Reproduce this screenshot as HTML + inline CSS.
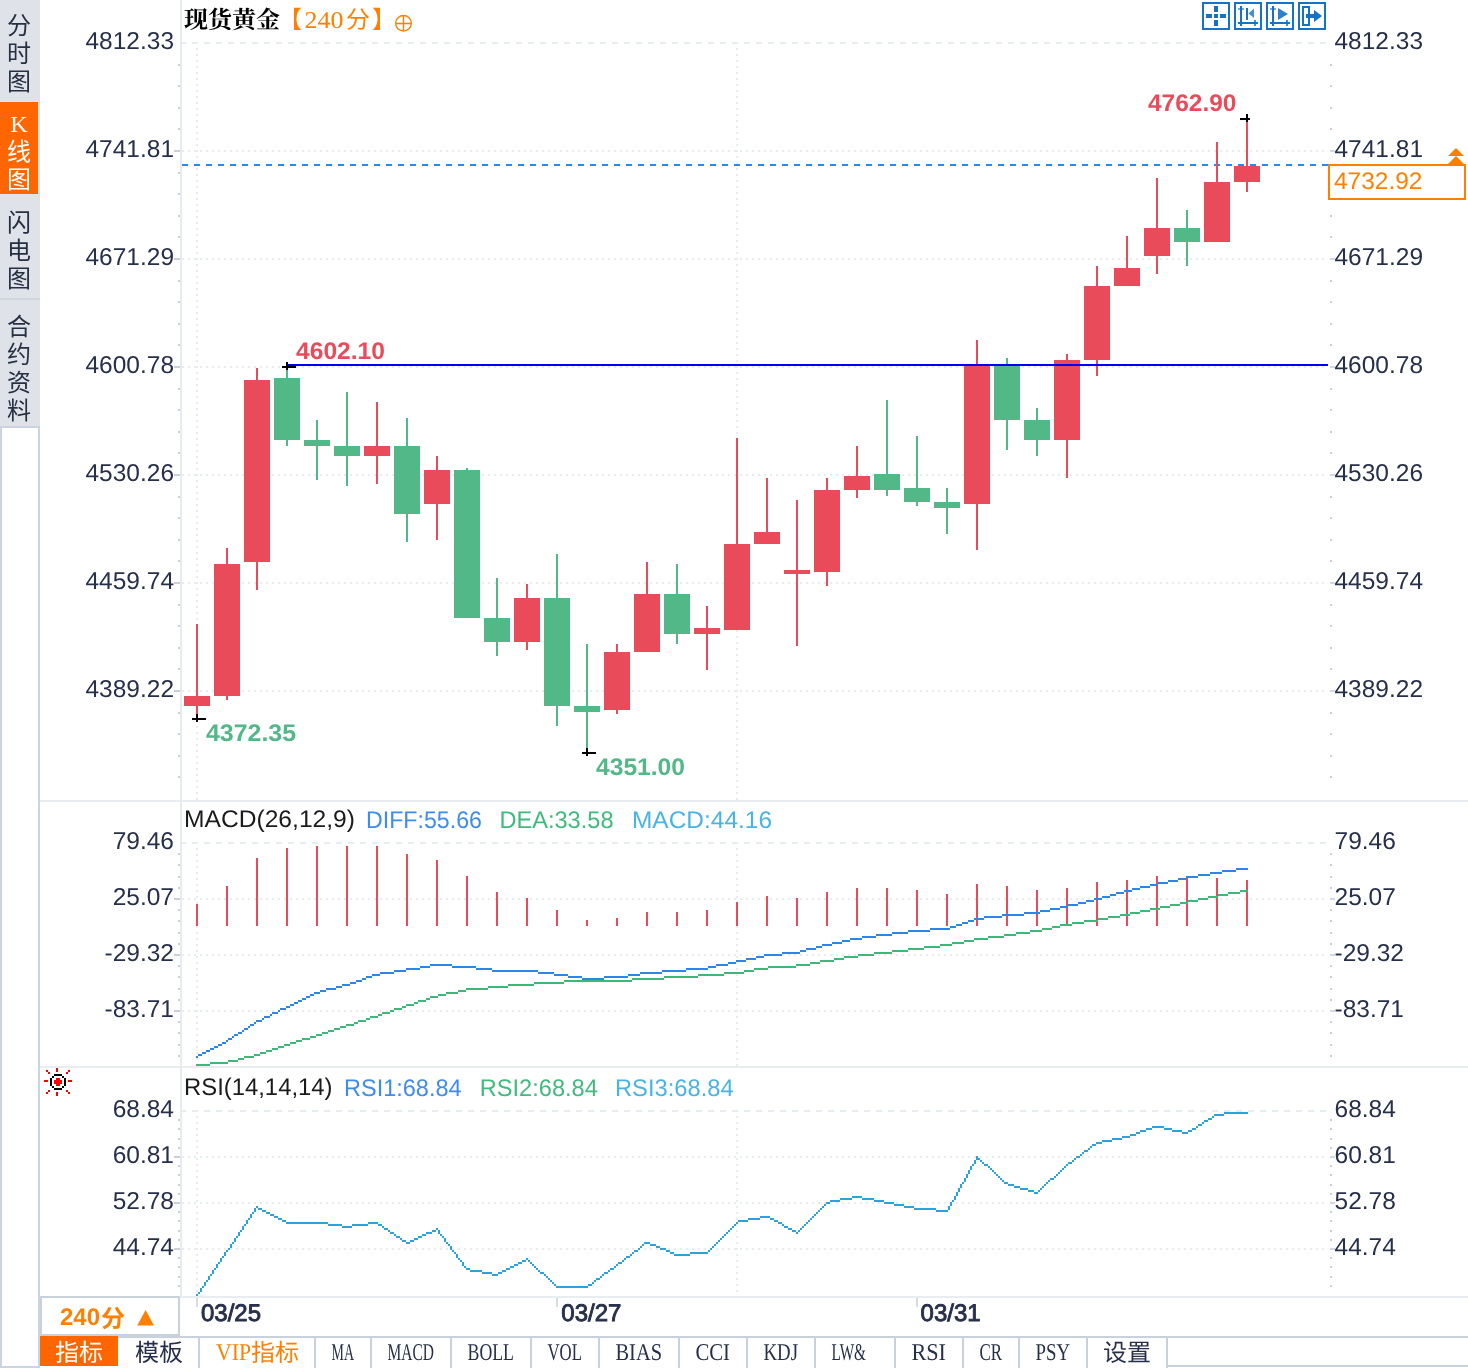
<!DOCTYPE html>
<html lang="zh-CN"><head><meta charset="utf-8"><title>现货黄金 240分</title>
<style>
html,body{margin:0;padding:0;background:#fff}
body{width:1468px;height:1368px;position:relative;overflow:hidden;font-family:"Liberation Sans","Noto Sans CJK SC",sans-serif}
#side{position:absolute;left:0;top:0;width:40px;height:426px;background:#e0e2ea}
#side div{position:absolute;left:0;width:38px;text-align:center;font-family:"Liberation Serif","Noto Sans CJK SC",sans-serif;font-size:24px;line-height:28px;color:#273042}
#side .sep{height:2px;width:40px;background:#cfd6df}
#side .act{background:#ff6600;color:#fff;width:38px;box-shadow:1px 0 0 #dbe5ef,0 -1px 0 #dbe5ef}
text{text-rendering:geometricPrecision}
</style></head><body>
<div id="side">
<div style="top:0;height:102px"><span style="display:block;margin-top:12px">分</span><span style="display:block">时</span><span style="display:block">图</span></div>
<div class="act" style="top:102px;height:92px"><span style="display:block;margin-top:8px">K</span><span style="display:block">线</span><span style="display:block">图</span></div>
<div style="top:194px;height:104px"><span style="display:block;margin-top:15px">闪</span><span style="display:block">电</span><span style="display:block">图</span></div>
<div class="sep" style="top:298px"></div>
<div style="top:300px;height:128px"><span style="display:block;margin-top:13px">合</span><span style="display:block">约</span><span style="display:block">资</span><span style="display:block">料</span></div>
</div>
<svg width="1468" height="1368" viewBox="0 0 1468 1368" style="position:absolute;left:0;top:0" shape-rendering="crispEdges">
<rect x="40" y="800" width="1428" height="2" fill="#e8edf2"/>
<rect x="40" y="1066" width="1428" height="2" fill="#e8edf2"/>
<rect x="40" y="1296" width="1428" height="2" fill="#e8edf2"/>
<rect x="38" y="426" width="2" height="942" fill="#ccd5df"/>
<rect x="0" y="426" width="2" height="942" fill="#ccd5df"/>
<rect x="0" y="426" width="40" height="2" fill="#ccd5df"/>
<rect x="0" y="1366" width="40" height="2" fill="#ccd5df"/>
<rect x="180" y="0" width="2" height="1297" fill="#e6ebf1"/>
<line x1="182" y1="43" x2="1328" y2="43" stroke="#e7ecf1" stroke-width="2" stroke-dasharray="6 6" stroke-dashoffset="2"/>
<line x1="182" y1="151" x2="1328" y2="151" stroke="#e7ecf1" stroke-width="2" stroke-dasharray="2 4"/>
<line x1="182" y1="259" x2="1328" y2="259" stroke="#e7ecf1" stroke-width="2" stroke-dasharray="2 4"/>
<line x1="182" y1="367" x2="1328" y2="367" stroke="#e7ecf1" stroke-width="2" stroke-dasharray="2 4"/>
<line x1="182" y1="475" x2="1328" y2="475" stroke="#e7ecf1" stroke-width="2" stroke-dasharray="2 4"/>
<line x1="182" y1="583" x2="1328" y2="583" stroke="#e7ecf1" stroke-width="2" stroke-dasharray="2 4"/>
<line x1="182" y1="691" x2="1328" y2="691" stroke="#e7ecf1" stroke-width="2" stroke-dasharray="2 4"/>
<line x1="197" y1="48" x2="197" y2="800" stroke="#e7ecf1" stroke-width="2" stroke-dasharray="2 4"/>
<line x1="737" y1="48" x2="737" y2="800" stroke="#e7ecf1" stroke-width="2" stroke-dasharray="2 4"/>
<rect x="178" y="64" width="2" height="2" fill="#c9d0d8"/>
<rect x="1330" y="64" width="2" height="2" fill="#c9d0d8"/>
<rect x="178" y="85" width="2" height="2" fill="#c9d0d8"/>
<rect x="1330" y="85" width="2" height="2" fill="#c9d0d8"/>
<rect x="178" y="107" width="2" height="2" fill="#c9d0d8"/>
<rect x="1330" y="107" width="2" height="2" fill="#c9d0d8"/>
<rect x="178" y="128" width="2" height="2" fill="#c9d0d8"/>
<rect x="1330" y="128" width="2" height="2" fill="#c9d0d8"/>
<rect x="174" y="150" width="6" height="2" fill="#c9d0d8"/>
<rect x="1330" y="150" width="5" height="2" fill="#d3d9e0"/>
<rect x="178" y="172" width="2" height="2" fill="#c9d0d8"/>
<rect x="1330" y="172" width="2" height="2" fill="#c9d0d8"/>
<rect x="178" y="193" width="2" height="2" fill="#c9d0d8"/>
<rect x="1330" y="193" width="2" height="2" fill="#c9d0d8"/>
<rect x="178" y="215" width="2" height="2" fill="#c9d0d8"/>
<rect x="1330" y="215" width="2" height="2" fill="#c9d0d8"/>
<rect x="178" y="236" width="2" height="2" fill="#c9d0d8"/>
<rect x="1330" y="236" width="2" height="2" fill="#c9d0d8"/>
<rect x="174" y="258" width="6" height="2" fill="#c9d0d8"/>
<rect x="1330" y="258" width="5" height="2" fill="#d3d9e0"/>
<rect x="178" y="280" width="2" height="2" fill="#c9d0d8"/>
<rect x="1330" y="280" width="2" height="2" fill="#c9d0d8"/>
<rect x="178" y="301" width="2" height="2" fill="#c9d0d8"/>
<rect x="1330" y="301" width="2" height="2" fill="#c9d0d8"/>
<rect x="178" y="323" width="2" height="2" fill="#c9d0d8"/>
<rect x="1330" y="323" width="2" height="2" fill="#c9d0d8"/>
<rect x="178" y="344" width="2" height="2" fill="#c9d0d8"/>
<rect x="1330" y="344" width="2" height="2" fill="#c9d0d8"/>
<rect x="174" y="366" width="6" height="2" fill="#c9d0d8"/>
<rect x="1330" y="366" width="5" height="2" fill="#d3d9e0"/>
<rect x="178" y="388" width="2" height="2" fill="#c9d0d8"/>
<rect x="1330" y="388" width="2" height="2" fill="#c9d0d8"/>
<rect x="178" y="409" width="2" height="2" fill="#c9d0d8"/>
<rect x="1330" y="409" width="2" height="2" fill="#c9d0d8"/>
<rect x="178" y="431" width="2" height="2" fill="#c9d0d8"/>
<rect x="1330" y="431" width="2" height="2" fill="#c9d0d8"/>
<rect x="178" y="452" width="2" height="2" fill="#c9d0d8"/>
<rect x="1330" y="452" width="2" height="2" fill="#c9d0d8"/>
<rect x="174" y="474" width="6" height="2" fill="#c9d0d8"/>
<rect x="1330" y="474" width="5" height="2" fill="#d3d9e0"/>
<rect x="178" y="496" width="2" height="2" fill="#c9d0d8"/>
<rect x="1330" y="496" width="2" height="2" fill="#c9d0d8"/>
<rect x="178" y="517" width="2" height="2" fill="#c9d0d8"/>
<rect x="1330" y="517" width="2" height="2" fill="#c9d0d8"/>
<rect x="178" y="539" width="2" height="2" fill="#c9d0d8"/>
<rect x="1330" y="539" width="2" height="2" fill="#c9d0d8"/>
<rect x="178" y="560" width="2" height="2" fill="#c9d0d8"/>
<rect x="1330" y="560" width="2" height="2" fill="#c9d0d8"/>
<rect x="174" y="582" width="6" height="2" fill="#c9d0d8"/>
<rect x="1330" y="582" width="5" height="2" fill="#d3d9e0"/>
<rect x="178" y="604" width="2" height="2" fill="#c9d0d8"/>
<rect x="1330" y="604" width="2" height="2" fill="#c9d0d8"/>
<rect x="178" y="625" width="2" height="2" fill="#c9d0d8"/>
<rect x="1330" y="625" width="2" height="2" fill="#c9d0d8"/>
<rect x="178" y="647" width="2" height="2" fill="#c9d0d8"/>
<rect x="1330" y="647" width="2" height="2" fill="#c9d0d8"/>
<rect x="178" y="668" width="2" height="2" fill="#c9d0d8"/>
<rect x="1330" y="668" width="2" height="2" fill="#c9d0d8"/>
<rect x="174" y="690" width="6" height="2" fill="#c9d0d8"/>
<rect x="1330" y="690" width="5" height="2" fill="#d3d9e0"/>
<rect x="178" y="712" width="2" height="2" fill="#c9d0d8"/>
<rect x="1330" y="712" width="2" height="2" fill="#c9d0d8"/>
<rect x="178" y="733" width="2" height="2" fill="#c9d0d8"/>
<rect x="1330" y="733" width="2" height="2" fill="#c9d0d8"/>
<rect x="178" y="755" width="2" height="2" fill="#c9d0d8"/>
<rect x="1330" y="755" width="2" height="2" fill="#c9d0d8"/>
<rect x="178" y="776" width="2" height="2" fill="#c9d0d8"/>
<rect x="1330" y="776" width="2" height="2" fill="#c9d0d8"/>
<line x1="182" y1="843" x2="1328" y2="843" stroke="#e7ecf1" stroke-width="2" stroke-dasharray="6 6" stroke-dashoffset="2"/>
<line x1="182" y1="899" x2="1328" y2="899" stroke="#e7ecf1" stroke-width="2" stroke-dasharray="2 4"/>
<line x1="182" y1="955" x2="1328" y2="955" stroke="#e7ecf1" stroke-width="2" stroke-dasharray="2 4"/>
<line x1="182" y1="1011" x2="1328" y2="1011" stroke="#e7ecf1" stroke-width="2" stroke-dasharray="2 4"/>
<line x1="197" y1="848" x2="197" y2="1066" stroke="#e7ecf1" stroke-width="2" stroke-dasharray="2 4"/>
<line x1="737" y1="848" x2="737" y2="1066" stroke="#e7ecf1" stroke-width="2" stroke-dasharray="2 4"/>
<rect x="178" y="853" width="2" height="2" fill="#c9d0d8"/>
<rect x="1330" y="853" width="2" height="2" fill="#c9d0d8"/>
<rect x="178" y="864" width="2" height="2" fill="#c9d0d8"/>
<rect x="1330" y="864" width="2" height="2" fill="#c9d0d8"/>
<rect x="178" y="876" width="2" height="2" fill="#c9d0d8"/>
<rect x="1330" y="876" width="2" height="2" fill="#c9d0d8"/>
<rect x="178" y="887" width="2" height="2" fill="#c9d0d8"/>
<rect x="1330" y="887" width="2" height="2" fill="#c9d0d8"/>
<rect x="174" y="898" width="6" height="2" fill="#c9d0d8"/>
<rect x="1330" y="898" width="5" height="2" fill="#d3d9e0"/>
<rect x="178" y="909" width="2" height="2" fill="#c9d0d8"/>
<rect x="1330" y="909" width="2" height="2" fill="#c9d0d8"/>
<rect x="178" y="920" width="2" height="2" fill="#c9d0d8"/>
<rect x="1330" y="920" width="2" height="2" fill="#c9d0d8"/>
<rect x="178" y="932" width="2" height="2" fill="#c9d0d8"/>
<rect x="1330" y="932" width="2" height="2" fill="#c9d0d8"/>
<rect x="178" y="943" width="2" height="2" fill="#c9d0d8"/>
<rect x="1330" y="943" width="2" height="2" fill="#c9d0d8"/>
<rect x="174" y="954" width="6" height="2" fill="#c9d0d8"/>
<rect x="1330" y="954" width="5" height="2" fill="#d3d9e0"/>
<rect x="178" y="965" width="2" height="2" fill="#c9d0d8"/>
<rect x="1330" y="965" width="2" height="2" fill="#c9d0d8"/>
<rect x="178" y="976" width="2" height="2" fill="#c9d0d8"/>
<rect x="1330" y="976" width="2" height="2" fill="#c9d0d8"/>
<rect x="178" y="988" width="2" height="2" fill="#c9d0d8"/>
<rect x="1330" y="988" width="2" height="2" fill="#c9d0d8"/>
<rect x="178" y="999" width="2" height="2" fill="#c9d0d8"/>
<rect x="1330" y="999" width="2" height="2" fill="#c9d0d8"/>
<rect x="174" y="1010" width="6" height="2" fill="#c9d0d8"/>
<rect x="1330" y="1010" width="5" height="2" fill="#d3d9e0"/>
<rect x="178" y="1021" width="2" height="2" fill="#c9d0d8"/>
<rect x="1330" y="1021" width="2" height="2" fill="#c9d0d8"/>
<rect x="178" y="1032" width="2" height="2" fill="#c9d0d8"/>
<rect x="1330" y="1032" width="2" height="2" fill="#c9d0d8"/>
<rect x="178" y="1044" width="2" height="2" fill="#c9d0d8"/>
<rect x="1330" y="1044" width="2" height="2" fill="#c9d0d8"/>
<rect x="178" y="1055" width="2" height="2" fill="#c9d0d8"/>
<rect x="1330" y="1055" width="2" height="2" fill="#c9d0d8"/>
<line x1="182" y1="1111" x2="1328" y2="1111" stroke="#e7ecf1" stroke-width="2" stroke-dasharray="6 6" stroke-dashoffset="2"/>
<line x1="182" y1="1157" x2="1328" y2="1157" stroke="#e7ecf1" stroke-width="2" stroke-dasharray="2 4"/>
<line x1="182" y1="1203" x2="1328" y2="1203" stroke="#e7ecf1" stroke-width="2" stroke-dasharray="2 4"/>
<line x1="182" y1="1249" x2="1328" y2="1249" stroke="#e7ecf1" stroke-width="2" stroke-dasharray="2 4"/>
<line x1="197" y1="1116" x2="197" y2="1296" stroke="#e7ecf1" stroke-width="2" stroke-dasharray="2 4"/>
<line x1="737" y1="1116" x2="737" y2="1296" stroke="#e7ecf1" stroke-width="2" stroke-dasharray="2 4"/>
<rect x="178" y="1119" width="2" height="2" fill="#c9d0d8"/>
<rect x="1330" y="1119" width="2" height="2" fill="#c9d0d8"/>
<rect x="178" y="1128" width="2" height="2" fill="#c9d0d8"/>
<rect x="1330" y="1128" width="2" height="2" fill="#c9d0d8"/>
<rect x="178" y="1138" width="2" height="2" fill="#c9d0d8"/>
<rect x="1330" y="1138" width="2" height="2" fill="#c9d0d8"/>
<rect x="178" y="1147" width="2" height="2" fill="#c9d0d8"/>
<rect x="1330" y="1147" width="2" height="2" fill="#c9d0d8"/>
<rect x="174" y="1156" width="6" height="2" fill="#c9d0d8"/>
<rect x="1330" y="1156" width="5" height="2" fill="#d3d9e0"/>
<rect x="178" y="1165" width="2" height="2" fill="#c9d0d8"/>
<rect x="1330" y="1165" width="2" height="2" fill="#c9d0d8"/>
<rect x="178" y="1174" width="2" height="2" fill="#c9d0d8"/>
<rect x="1330" y="1174" width="2" height="2" fill="#c9d0d8"/>
<rect x="178" y="1184" width="2" height="2" fill="#c9d0d8"/>
<rect x="1330" y="1184" width="2" height="2" fill="#c9d0d8"/>
<rect x="178" y="1193" width="2" height="2" fill="#c9d0d8"/>
<rect x="1330" y="1193" width="2" height="2" fill="#c9d0d8"/>
<rect x="174" y="1202" width="6" height="2" fill="#c9d0d8"/>
<rect x="1330" y="1202" width="5" height="2" fill="#d3d9e0"/>
<rect x="178" y="1211" width="2" height="2" fill="#c9d0d8"/>
<rect x="1330" y="1211" width="2" height="2" fill="#c9d0d8"/>
<rect x="178" y="1220" width="2" height="2" fill="#c9d0d8"/>
<rect x="1330" y="1220" width="2" height="2" fill="#c9d0d8"/>
<rect x="178" y="1230" width="2" height="2" fill="#c9d0d8"/>
<rect x="1330" y="1230" width="2" height="2" fill="#c9d0d8"/>
<rect x="178" y="1239" width="2" height="2" fill="#c9d0d8"/>
<rect x="1330" y="1239" width="2" height="2" fill="#c9d0d8"/>
<rect x="174" y="1248" width="6" height="2" fill="#c9d0d8"/>
<rect x="1330" y="1248" width="5" height="2" fill="#d3d9e0"/>
<rect x="178" y="1257" width="2" height="2" fill="#c9d0d8"/>
<rect x="1330" y="1257" width="2" height="2" fill="#c9d0d8"/>
<rect x="178" y="1266" width="2" height="2" fill="#c9d0d8"/>
<rect x="1330" y="1266" width="2" height="2" fill="#c9d0d8"/>
<rect x="178" y="1276" width="2" height="2" fill="#c9d0d8"/>
<rect x="1330" y="1276" width="2" height="2" fill="#c9d0d8"/>
<rect x="178" y="1285" width="2" height="2" fill="#c9d0d8"/>
<rect x="1330" y="1285" width="2" height="2" fill="#c9d0d8"/>
<line x1="182" y1="165" x2="1328" y2="165" stroke="#1e8cff" stroke-width="2" stroke-dasharray="6 6"/>
<rect x="196" y="624" width="2" height="95" fill="#e94b5b"/>
<rect x="184" y="696" width="26" height="10" fill="#e94b5b"/>
<rect x="226" y="548" width="2" height="152" fill="#e94b5b"/>
<rect x="214" y="564" width="26" height="132" fill="#e94b5b"/>
<rect x="256" y="368" width="2" height="222" fill="#e94b5b"/>
<rect x="244" y="380" width="26" height="182" fill="#e94b5b"/>
<rect x="286" y="365" width="2" height="81" fill="#53b888"/>
<rect x="274" y="378" width="26" height="62" fill="#53b888"/>
<rect x="316" y="420" width="2" height="60" fill="#53b888"/>
<rect x="304" y="440" width="26" height="6" fill="#53b888"/>
<rect x="346" y="392" width="2" height="94" fill="#53b888"/>
<rect x="334" y="446" width="26" height="10" fill="#53b888"/>
<rect x="376" y="402" width="2" height="82" fill="#e94b5b"/>
<rect x="364" y="446" width="26" height="10" fill="#e94b5b"/>
<rect x="406" y="418" width="2" height="124" fill="#53b888"/>
<rect x="394" y="446" width="26" height="68" fill="#53b888"/>
<rect x="436" y="456" width="2" height="84" fill="#e94b5b"/>
<rect x="424" y="470" width="26" height="34" fill="#e94b5b"/>
<rect x="466" y="468" width="2" height="150" fill="#53b888"/>
<rect x="454" y="470" width="26" height="148" fill="#53b888"/>
<rect x="496" y="578" width="2" height="78" fill="#53b888"/>
<rect x="484" y="618" width="26" height="24" fill="#53b888"/>
<rect x="526" y="584" width="2" height="66" fill="#e94b5b"/>
<rect x="514" y="598" width="26" height="44" fill="#e94b5b"/>
<rect x="556" y="554" width="2" height="172" fill="#53b888"/>
<rect x="544" y="598" width="26" height="108" fill="#53b888"/>
<rect x="586" y="644" width="2" height="109" fill="#53b888"/>
<rect x="574" y="706" width="26" height="6" fill="#53b888"/>
<rect x="616" y="644" width="2" height="70" fill="#e94b5b"/>
<rect x="604" y="652" width="26" height="58" fill="#e94b5b"/>
<rect x="646" y="562" width="2" height="90" fill="#e94b5b"/>
<rect x="634" y="594" width="26" height="58" fill="#e94b5b"/>
<rect x="676" y="564" width="2" height="80" fill="#53b888"/>
<rect x="664" y="594" width="26" height="40" fill="#53b888"/>
<rect x="706" y="606" width="2" height="64" fill="#e94b5b"/>
<rect x="694" y="628" width="26" height="6" fill="#e94b5b"/>
<rect x="736" y="438" width="2" height="192" fill="#e94b5b"/>
<rect x="724" y="544" width="26" height="86" fill="#e94b5b"/>
<rect x="766" y="478" width="2" height="66" fill="#e94b5b"/>
<rect x="754" y="532" width="26" height="12" fill="#e94b5b"/>
<rect x="796" y="500" width="2" height="146" fill="#e94b5b"/>
<rect x="784" y="570" width="26" height="4" fill="#e94b5b"/>
<rect x="826" y="478" width="2" height="108" fill="#e94b5b"/>
<rect x="814" y="490" width="26" height="82" fill="#e94b5b"/>
<rect x="856" y="446" width="2" height="52" fill="#e94b5b"/>
<rect x="844" y="476" width="26" height="14" fill="#e94b5b"/>
<rect x="886" y="400" width="2" height="96" fill="#53b888"/>
<rect x="874" y="474" width="26" height="16" fill="#53b888"/>
<rect x="916" y="436" width="2" height="70" fill="#53b888"/>
<rect x="904" y="488" width="26" height="14" fill="#53b888"/>
<rect x="946" y="488" width="2" height="46" fill="#53b888"/>
<rect x="934" y="502" width="26" height="6" fill="#53b888"/>
<rect x="976" y="340" width="2" height="210" fill="#e94b5b"/>
<rect x="964" y="365" width="26" height="139" fill="#e94b5b"/>
<rect x="1006" y="358" width="2" height="92" fill="#53b888"/>
<rect x="994" y="365" width="26" height="55" fill="#53b888"/>
<rect x="1036" y="408" width="2" height="48" fill="#53b888"/>
<rect x="1024" y="420" width="26" height="20" fill="#53b888"/>
<rect x="1066" y="354" width="2" height="124" fill="#e94b5b"/>
<rect x="1054" y="360" width="26" height="80" fill="#e94b5b"/>
<rect x="1096" y="266" width="2" height="110" fill="#e94b5b"/>
<rect x="1084" y="286" width="26" height="74" fill="#e94b5b"/>
<rect x="1126" y="236" width="2" height="50" fill="#e94b5b"/>
<rect x="1114" y="268" width="26" height="18" fill="#e94b5b"/>
<rect x="1156" y="178" width="2" height="96" fill="#e94b5b"/>
<rect x="1144" y="228" width="26" height="28" fill="#e94b5b"/>
<rect x="1186" y="210" width="2" height="56" fill="#53b888"/>
<rect x="1174" y="228" width="26" height="14" fill="#53b888"/>
<rect x="1216" y="142" width="2" height="100" fill="#e94b5b"/>
<rect x="1204" y="182" width="26" height="60" fill="#e94b5b"/>
<rect x="1246" y="118" width="2" height="74" fill="#e94b5b"/>
<rect x="1234" y="166" width="26" height="16" fill="#e94b5b"/>
<rect x="287" y="364" width="1041" height="2" fill="#0000ee"/>
<rect x="192" y="718" width="14" height="2" fill="#000"/>
<rect x="196" y="714" width="2" height="8" fill="#000"/>
<rect x="582" y="752" width="14" height="2" fill="#000"/>
<rect x="586" y="748" width="2" height="8" fill="#000"/>
<rect x="282" y="366" width="14" height="2" fill="#000"/>
<rect x="286" y="362" width="2" height="8" fill="#000"/>
<rect x="1240" y="118" width="10" height="2" fill="#000"/>
<rect x="1246" y="114" width="2" height="8" fill="#000"/>
<rect x="196" y="904" width="2" height="22" fill="#e94b5b"/>
<rect x="226" y="886" width="2" height="40" fill="#e94b5b"/>
<rect x="256" y="858" width="2" height="68" fill="#e94b5b"/>
<rect x="286" y="848" width="2" height="78" fill="#e94b5b"/>
<rect x="316" y="846" width="2" height="80" fill="#e94b5b"/>
<rect x="346" y="846" width="2" height="80" fill="#e94b5b"/>
<rect x="376" y="846" width="2" height="80" fill="#e94b5b"/>
<rect x="406" y="854" width="2" height="72" fill="#e94b5b"/>
<rect x="436" y="860" width="2" height="66" fill="#e94b5b"/>
<rect x="466" y="876" width="2" height="50" fill="#e94b5b"/>
<rect x="496" y="892" width="2" height="34" fill="#e94b5b"/>
<rect x="526" y="898" width="2" height="28" fill="#e94b5b"/>
<rect x="556" y="910" width="2" height="16" fill="#e94b5b"/>
<rect x="586" y="920" width="2" height="6" fill="#e94b5b"/>
<rect x="616" y="918" width="2" height="8" fill="#e94b5b"/>
<rect x="646" y="912" width="2" height="14" fill="#e94b5b"/>
<rect x="676" y="912" width="2" height="14" fill="#e94b5b"/>
<rect x="706" y="910" width="2" height="16" fill="#e94b5b"/>
<rect x="736" y="902" width="2" height="24" fill="#e94b5b"/>
<rect x="766" y="896" width="2" height="30" fill="#e94b5b"/>
<rect x="796" y="898" width="2" height="28" fill="#e94b5b"/>
<rect x="826" y="892" width="2" height="34" fill="#e94b5b"/>
<rect x="856" y="888" width="2" height="38" fill="#e94b5b"/>
<rect x="886" y="888" width="2" height="38" fill="#e94b5b"/>
<rect x="916" y="890" width="2" height="36" fill="#e94b5b"/>
<rect x="946" y="894" width="2" height="32" fill="#e94b5b"/>
<rect x="976" y="884" width="2" height="42" fill="#e94b5b"/>
<rect x="1006" y="886" width="2" height="40" fill="#e94b5b"/>
<rect x="1036" y="890" width="2" height="36" fill="#e94b5b"/>
<rect x="1066" y="888" width="2" height="38" fill="#e94b5b"/>
<rect x="1096" y="882" width="2" height="44" fill="#e94b5b"/>
<rect x="1126" y="880" width="2" height="46" fill="#e94b5b"/>
<rect x="1156" y="876" width="2" height="50" fill="#e94b5b"/>
<rect x="1186" y="878" width="2" height="48" fill="#e94b5b"/>
<rect x="1216" y="878" width="2" height="48" fill="#e94b5b"/>
<rect x="1246" y="880" width="2" height="46" fill="#e94b5b"/>
<path d="M196 1064h14v2h-14zM210 1062h18v2h-18zM228 1060h10v2h-10zM238 1058h6v2h-6zM244 1056h10v2h-10zM254 1054h6v2h-6zM260 1052h6v2h-6zM266 1050h6v2h-6zM272 1048h6v2h-6zM278 1046h6v2h-6zM284 1044h6v2h-6zM290 1042h6v2h-6zM296 1040h6v2h-6zM302 1038h8v2h-8zM310 1036h6v2h-6zM316 1034h6v2h-6zM322 1032h6v2h-6zM328 1030h6v2h-6zM334 1028h6v2h-6zM340 1026h6v2h-6zM346 1024h8v2h-8zM354 1022h4v2h-4zM358 1020h8v2h-8zM366 1018h4v2h-4zM370 1016h8v2h-8zM378 1014h4v2h-4zM382 1012h8v2h-8zM390 1010h4v2h-4zM394 1008h8v2h-8zM402 1006h4v2h-4zM406 1004h8v2h-8zM414 1002h4v2h-4zM418 1000h8v2h-8zM426 998h4v2h-4zM430 996h8v2h-8zM438 994h8v2h-8zM446 992h12v2h-12zM458 990h8v2h-8zM466 988h22v2h-22zM488 986h20v2h-20zM508 984h26v2h-26zM534 982h30v2h-30zM564 980h68v2h-68zM632 978h32v2h-32zM664 976h34v2h-34zM698 974h26v2h-26zM724 972h20v2h-20zM744 970h10v2h-10zM754 968h14v2h-14zM768 966h28v2h-28zM796 964h14v2h-14zM810 962h10v2h-10zM820 960h14v2h-14zM834 958h10v2h-10zM844 956h14v2h-14zM858 954h16v2h-16zM874 952h18v2h-18zM892 950h16v2h-16zM908 948h16v2h-16zM924 946h16v2h-16zM940 944h12v2h-12zM952 942h12v2h-12zM964 940h10v2h-10zM974 938h14v2h-14zM988 936h16v2h-16zM1004 934h12v2h-12zM1016 932h14v2h-14zM1030 930h12v2h-12zM1042 928h10v2h-10zM1052 926h8v2h-8zM1060 924h12v2h-12zM1072 922h12v2h-12zM1084 920h14v2h-14zM1098 918h10v2h-10zM1108 916h12v2h-12zM1120 914h10v2h-10zM1130 912h10v2h-10zM1140 910h10v2h-10zM1150 908h10v2h-10zM1160 906h10v2h-10zM1170 904h10v2h-10zM1180 902h8v2h-8zM1188 900h10v2h-10zM1198 898h10v2h-10zM1208 896h10v2h-10zM1218 894h10v2h-10zM1228 892h12v2h-12zM1240 890h8v2h-8z" fill="#3cb878"/>
<path d="M196 1056h2v2h-2zM198 1054h4v2h-4zM202 1052h4v2h-4zM206 1050h4v2h-4zM210 1048h4v2h-4zM214 1046h4v2h-4zM218 1044h4v2h-4zM222 1042h4v2h-4zM226 1040h2v2h-2zM228 1038h4v2h-4zM232 1036h2v2h-2zM234 1034h4v2h-4zM238 1032h4v2h-4zM242 1030h2v2h-2zM244 1028h4v2h-4zM248 1026h2v2h-2zM250 1024h4v2h-4zM254 1022h2v2h-2zM256 1020h6v2h-6zM262 1018h2v2h-2zM264 1016h6v2h-6zM270 1014h2v2h-2zM272 1012h6v2h-6zM278 1010h2v2h-2zM280 1008h6v2h-6zM286 1006h4v2h-4zM290 1004h4v2h-4zM294 1002h4v2h-4zM298 1000h4v2h-4zM302 998h4v2h-4zM306 996h4v2h-4zM310 994h4v2h-4zM314 992h6v2h-6zM320 990h6v2h-6zM326 988h10v2h-10zM336 986h6v2h-6zM342 984h8v2h-8zM350 982h6v2h-6zM356 980h6v2h-6zM362 978h4v2h-4zM366 976h6v2h-6zM372 974h8v2h-8zM380 972h14v2h-14zM394 970h12v2h-12zM406 968h14v2h-14zM420 966h10v2h-10zM430 964h22v2h-22zM452 966h24v2h-24zM476 968h16v2h-16zM492 970h46v2h-46zM538 972h16v2h-16zM554 974h14v2h-14zM568 976h14v2h-14zM582 978h22v2h-22zM604 976h24v2h-24zM628 974h12v2h-12zM640 972h22v2h-22zM662 970h24v2h-24zM686 968h22v2h-22zM708 966h8v2h-8zM716 964h12v2h-12zM728 962h8v2h-8zM736 960h10v2h-10zM746 958h10v2h-10zM756 956h8v2h-8zM764 954h18v2h-18zM782 952h18v2h-18zM800 950h6v2h-6zM806 948h10v2h-10zM816 946h6v2h-6zM822 944h10v2h-10zM832 942h10v2h-10zM842 940h8v2h-8zM850 938h12v2h-12zM862 936h14v2h-14zM876 934h16v2h-16zM892 932h16v2h-16zM908 930h22v2h-22zM930 928h20v2h-20zM950 926h6v2h-6zM956 924h6v2h-6zM962 922h6v2h-6zM968 920h6v2h-6zM974 918h10v2h-10zM984 916h18v2h-18zM1002 914h22v2h-22zM1024 912h16v2h-16zM1040 910h10v2h-10zM1050 908h10v2h-10zM1060 906h8v2h-8zM1068 904h10v2h-10zM1078 902h8v2h-8zM1086 900h8v2h-8zM1094 898h8v2h-8zM1102 896h8v2h-8zM1110 894h6v2h-6zM1116 892h8v2h-8zM1124 890h8v2h-8zM1132 888h8v2h-8zM1140 886h10v2h-10zM1150 884h8v2h-8zM1158 882h10v2h-10zM1168 880h10v2h-10zM1178 878h8v2h-8zM1186 876h12v2h-12zM1198 874h12v2h-12zM1210 872h12v2h-12zM1222 870h14v2h-14zM1236 868h12v2h-12z" fill="#2b86ea"/>
<path d="M196 1294h2v2h-2zM198 1292h2v2h-2zM200 1288h2v4h-2zM202 1286h2v2h-2zM204 1282h2v4h-2zM206 1280h2v2h-2zM208 1276h2v4h-2zM210 1274h2v2h-2zM212 1270h2v4h-2zM214 1268h2v2h-2zM216 1264h2v4h-2zM218 1262h2v2h-2zM220 1258h2v4h-2zM222 1256h2v2h-2zM224 1252h2v4h-2zM226 1250h2v2h-2zM228 1248h2v2h-2zM230 1244h2v4h-2zM232 1242h2v2h-2zM234 1238h2v4h-2zM236 1236h2v2h-2zM238 1232h2v4h-2zM240 1230h2v2h-2zM242 1226h2v4h-2zM244 1224h2v2h-2zM246 1220h2v4h-2zM248 1218h2v2h-2zM250 1214h2v4h-2zM252 1212h2v2h-2zM254 1208h2v4h-2zM256 1206h2v2h-2zM258 1208h4v2h-4zM262 1210h4v2h-4zM266 1212h4v2h-4zM270 1214h4v2h-4zM274 1216h4v2h-4zM278 1218h4v2h-4zM282 1220h4v2h-4zM286 1222h42v2h-42zM328 1224h14v2h-14zM342 1226h10v2h-10zM352 1224h16v2h-16zM368 1222h10v2h-10zM378 1224h4v2h-4zM382 1226h2v2h-2zM384 1228h4v2h-4zM388 1230h2v2h-2zM390 1232h4v2h-4zM394 1234h2v2h-2zM396 1236h4v2h-4zM400 1238h2v2h-2zM402 1240h4v2h-4zM406 1242h4v2h-4zM410 1240h4v2h-4zM414 1238h4v2h-4zM418 1236h4v2h-4zM422 1234h4v2h-4zM426 1232h6v2h-6zM432 1230h4v2h-4zM436 1228h2v2h-2zM438 1230h2v4h-2zM440 1234h2v2h-2zM442 1236h2v2h-2zM444 1238h2v4h-2zM446 1242h2v2h-2zM448 1244h2v2h-2zM450 1246h2v4h-2zM452 1250h2v2h-2zM454 1252h2v2h-2zM456 1254h2v4h-2zM458 1258h2v2h-2zM460 1260h2v2h-2zM462 1262h2v4h-2zM464 1266h2v2h-2zM466 1268h4v2h-4zM470 1270h12v2h-12zM482 1272h10v2h-10zM492 1274h6v2h-6zM498 1272h4v2h-4zM502 1270h4v2h-4zM506 1268h4v2h-4zM510 1266h4v2h-4zM514 1264h4v2h-4zM518 1262h4v2h-4zM522 1260h4v2h-4zM526 1258h2v2h-2zM528 1260h2v2h-2zM530 1262h2v2h-2zM532 1264h2v2h-2zM534 1266h2v2h-2zM536 1268h2v2h-2zM538 1270h2v2h-2zM540 1272h4v2h-4zM544 1274h2v2h-2zM546 1276h2v2h-2zM548 1278h2v2h-2zM550 1280h2v2h-2zM552 1282h2v2h-2zM554 1284h2v2h-2zM556 1286h32v2h-32zM588 1284h4v2h-4zM592 1282h2v2h-2zM594 1280h2v2h-2zM596 1278h4v2h-4zM600 1276h2v2h-2zM602 1274h2v2h-2zM604 1272h4v2h-4zM608 1270h2v2h-2zM610 1268h4v2h-4zM614 1266h2v2h-2zM616 1264h2v2h-2zM618 1262h4v2h-4zM622 1260h2v2h-2zM624 1258h2v2h-2zM626 1256h4v2h-4zM630 1254h2v2h-2zM632 1252h2v2h-2zM634 1250h4v2h-4zM638 1248h2v2h-2zM640 1246h2v2h-2zM642 1244h2v2h-2zM644 1242h6v2h-6zM650 1244h6v2h-6zM656 1246h4v2h-4zM660 1248h6v2h-6zM666 1250h4v2h-4zM670 1252h4v2h-4zM674 1254h16v2h-16zM690 1252h18v2h-18zM708 1250h2v2h-2zM710 1248h2v2h-2zM712 1246h2v2h-2zM714 1244h2v2h-2zM716 1242h2v2h-2zM718 1240h2v2h-2zM720 1238h2v2h-2zM722 1236h2v2h-2zM724 1234h2v2h-2zM726 1232h2v2h-2zM728 1230h2v2h-2zM730 1228h2v2h-2zM732 1226h2v2h-2zM734 1224h2v2h-2zM736 1222h2v2h-2zM738 1220h10v2h-10zM748 1218h12v2h-12zM760 1216h10v2h-10zM770 1218h4v2h-4zM774 1220h4v2h-4zM778 1222h4v2h-4zM782 1224h2v2h-2zM784 1226h4v2h-4zM788 1228h4v2h-4zM792 1230h4v2h-4zM796 1232h2v2h-2zM798 1230h2v2h-2zM800 1228h2v2h-2zM802 1226h2v2h-2zM804 1224h2v2h-2zM806 1222h2v2h-2zM808 1220h2v2h-2zM810 1218h2v2h-2zM812 1216h2v2h-2zM814 1214h2v2h-2zM816 1212h2v2h-2zM818 1210h2v2h-2zM820 1208h2v2h-2zM822 1206h2v2h-2zM824 1204h2v2h-2zM826 1202h4v2h-4zM830 1200h10v2h-10zM840 1198h12v2h-12zM852 1196h10v2h-10zM862 1198h12v2h-12zM874 1200h10v2h-10zM884 1202h10v2h-10zM894 1204h10v2h-10zM904 1206h10v2h-10zM914 1208h22v2h-22zM936 1210h12v2h-12zM948 1206h2v4h-2zM950 1202h2v4h-2zM952 1200h2v2h-2zM954 1196h2v4h-2zM956 1192h2v4h-2zM958 1188h2v4h-2zM960 1184h2v4h-2zM962 1182h2v2h-2zM964 1178h2v4h-2zM966 1174h2v4h-2zM968 1170h2v4h-2zM970 1166h2v4h-2zM972 1164h2v2h-2zM974 1160h2v4h-2zM976 1156h2v4h-2zM978 1158h2v2h-2zM980 1160h2v2h-2zM982 1162h2v2h-2zM984 1164h4v2h-4zM988 1166h2v2h-2zM990 1168h2v2h-2zM992 1170h2v2h-2zM994 1172h2v2h-2zM996 1174h2v2h-2zM998 1176h2v2h-2zM1000 1178h2v2h-2zM1002 1180h2v2h-2zM1004 1182h4v2h-4zM1008 1184h6v2h-6zM1014 1186h6v2h-6zM1020 1188h8v2h-8zM1028 1190h6v2h-6zM1034 1192h4v2h-4zM1038 1190h2v2h-2zM1040 1188h2v2h-2zM1042 1186h2v2h-2zM1044 1184h2v2h-2zM1046 1182h2v2h-2zM1048 1180h2v2h-2zM1050 1178h4v2h-4zM1054 1176h2v2h-2zM1056 1174h2v2h-2zM1058 1172h2v2h-2zM1060 1170h2v2h-2zM1062 1168h2v2h-2zM1064 1166h2v2h-2zM1066 1164h2v2h-2zM1068 1162h4v2h-4zM1072 1160h2v2h-2zM1074 1158h2v2h-2zM1076 1156h4v2h-4zM1080 1154h2v2h-2zM1082 1152h2v2h-2zM1084 1150h4v2h-4zM1088 1148h2v2h-2zM1090 1146h2v2h-2zM1092 1144h4v2h-4zM1096 1142h6v2h-6zM1102 1140h10v2h-10zM1112 1138h10v2h-10zM1122 1136h8v2h-8zM1130 1134h6v2h-6zM1136 1132h4v2h-4zM1140 1130h6v2h-6zM1146 1128h6v2h-6zM1152 1126h12v2h-12zM1164 1128h8v2h-8zM1172 1130h10v2h-10zM1182 1132h6v2h-6zM1188 1130h4v2h-4zM1192 1128h4v2h-4zM1196 1126h2v2h-2zM1198 1124h4v2h-4zM1202 1122h2v2h-2zM1204 1120h4v2h-4zM1208 1118h4v2h-4zM1212 1116h2v2h-2zM1214 1114h10v2h-10zM1224 1112h24v2h-24z" fill="#2aa2dc"/>
<rect x="196" y="1298" width="2" height="9" fill="#d5dce4"/>
<rect x="556" y="1298" width="2" height="9" fill="#d5dce4"/>
<rect x="916" y="1298" width="2" height="9" fill="#d5dce4"/>
<text x="174" y="49.3" font-family="'Liberation Sans','Noto Sans CJK SC',sans-serif" font-size="24.5" fill="#27304a" text-anchor="end" textLength="88.5" lengthAdjust="spacingAndGlyphs">4812.33</text>
<text x="1334.5" y="49.3" font-family="'Liberation Sans','Noto Sans CJK SC',sans-serif" font-size="24.5" fill="#27304a" textLength="88.5" lengthAdjust="spacingAndGlyphs">4812.33</text>
<text x="174" y="157.3" font-family="'Liberation Sans','Noto Sans CJK SC',sans-serif" font-size="24.5" fill="#27304a" text-anchor="end" textLength="88.5" lengthAdjust="spacingAndGlyphs">4741.81</text>
<text x="1334.5" y="157.3" font-family="'Liberation Sans','Noto Sans CJK SC',sans-serif" font-size="24.5" fill="#27304a" textLength="88.5" lengthAdjust="spacingAndGlyphs">4741.81</text>
<text x="174" y="265.3" font-family="'Liberation Sans','Noto Sans CJK SC',sans-serif" font-size="24.5" fill="#27304a" text-anchor="end" textLength="88.5" lengthAdjust="spacingAndGlyphs">4671.29</text>
<text x="1334.5" y="265.3" font-family="'Liberation Sans','Noto Sans CJK SC',sans-serif" font-size="24.5" fill="#27304a" textLength="88.5" lengthAdjust="spacingAndGlyphs">4671.29</text>
<text x="174" y="373.3" font-family="'Liberation Sans','Noto Sans CJK SC',sans-serif" font-size="24.5" fill="#27304a" text-anchor="end" textLength="88.5" lengthAdjust="spacingAndGlyphs">4600.78</text>
<text x="1334.5" y="373.3" font-family="'Liberation Sans','Noto Sans CJK SC',sans-serif" font-size="24.5" fill="#27304a" textLength="88.5" lengthAdjust="spacingAndGlyphs">4600.78</text>
<text x="174" y="481.3" font-family="'Liberation Sans','Noto Sans CJK SC',sans-serif" font-size="24.5" fill="#27304a" text-anchor="end" textLength="88.5" lengthAdjust="spacingAndGlyphs">4530.26</text>
<text x="1334.5" y="481.3" font-family="'Liberation Sans','Noto Sans CJK SC',sans-serif" font-size="24.5" fill="#27304a" textLength="88.5" lengthAdjust="spacingAndGlyphs">4530.26</text>
<text x="174" y="589.3" font-family="'Liberation Sans','Noto Sans CJK SC',sans-serif" font-size="24.5" fill="#27304a" text-anchor="end" textLength="88.5" lengthAdjust="spacingAndGlyphs">4459.74</text>
<text x="1334.5" y="589.3" font-family="'Liberation Sans','Noto Sans CJK SC',sans-serif" font-size="24.5" fill="#27304a" textLength="88.5" lengthAdjust="spacingAndGlyphs">4459.74</text>
<text x="174" y="697.3" font-family="'Liberation Sans','Noto Sans CJK SC',sans-serif" font-size="24.5" fill="#27304a" text-anchor="end" textLength="88.5" lengthAdjust="spacingAndGlyphs">4389.22</text>
<text x="1334.5" y="697.3" font-family="'Liberation Sans','Noto Sans CJK SC',sans-serif" font-size="24.5" fill="#27304a" textLength="88.5" lengthAdjust="spacingAndGlyphs">4389.22</text>
<text x="174" y="849.3" font-family="'Liberation Sans','Noto Sans CJK SC',sans-serif" font-size="24.5" fill="#27304a" text-anchor="end">79.46</text>
<text x="1334.5" y="849.3" font-family="'Liberation Sans','Noto Sans CJK SC',sans-serif" font-size="24.5" fill="#27304a">79.46</text>
<text x="174" y="905.3" font-family="'Liberation Sans','Noto Sans CJK SC',sans-serif" font-size="24.5" fill="#27304a" text-anchor="end">25.07</text>
<text x="1334.5" y="905.3" font-family="'Liberation Sans','Noto Sans CJK SC',sans-serif" font-size="24.5" fill="#27304a">25.07</text>
<text x="174" y="961.3" font-family="'Liberation Sans','Noto Sans CJK SC',sans-serif" font-size="24.5" fill="#27304a" text-anchor="end">-29.32</text>
<text x="1334.5" y="961.3" font-family="'Liberation Sans','Noto Sans CJK SC',sans-serif" font-size="24.5" fill="#27304a">-29.32</text>
<text x="174" y="1017.3" font-family="'Liberation Sans','Noto Sans CJK SC',sans-serif" font-size="24.5" fill="#27304a" text-anchor="end">-83.71</text>
<text x="1334.5" y="1017.3" font-family="'Liberation Sans','Noto Sans CJK SC',sans-serif" font-size="24.5" fill="#27304a">-83.71</text>
<text x="174" y="1117.3" font-family="'Liberation Sans','Noto Sans CJK SC',sans-serif" font-size="24.5" fill="#27304a" text-anchor="end">68.84</text>
<text x="1334.5" y="1117.3" font-family="'Liberation Sans','Noto Sans CJK SC',sans-serif" font-size="24.5" fill="#27304a">68.84</text>
<text x="174" y="1163.3" font-family="'Liberation Sans','Noto Sans CJK SC',sans-serif" font-size="24.5" fill="#27304a" text-anchor="end">60.81</text>
<text x="1334.5" y="1163.3" font-family="'Liberation Sans','Noto Sans CJK SC',sans-serif" font-size="24.5" fill="#27304a">60.81</text>
<text x="174" y="1209.3" font-family="'Liberation Sans','Noto Sans CJK SC',sans-serif" font-size="24.5" fill="#27304a" text-anchor="end">52.78</text>
<text x="1334.5" y="1209.3" font-family="'Liberation Sans','Noto Sans CJK SC',sans-serif" font-size="24.5" fill="#27304a">52.78</text>
<text x="174" y="1255.3" font-family="'Liberation Sans','Noto Sans CJK SC',sans-serif" font-size="24.5" fill="#27304a" text-anchor="end">44.74</text>
<text x="1334.5" y="1255.3" font-family="'Liberation Sans','Noto Sans CJK SC',sans-serif" font-size="24.5" fill="#27304a">44.74</text>
<text x="296" y="359.3" font-family="'Liberation Sans','Noto Sans CJK SC',sans-serif" font-size="24" fill="#e94b5b" font-weight="bold" textLength="89" lengthAdjust="spacingAndGlyphs">4602.10</text>
<text x="206" y="741.3" font-family="'Liberation Sans','Noto Sans CJK SC',sans-serif" font-size="24" fill="#53b888" font-weight="bold" textLength="90" lengthAdjust="spacingAndGlyphs">4372.35</text>
<text x="596" y="774.7" font-family="'Liberation Sans','Noto Sans CJK SC',sans-serif" font-size="24" fill="#53b888" font-weight="bold" textLength="89" lengthAdjust="spacingAndGlyphs">4351.00</text>
<text x="1148" y="110.5" font-family="'Liberation Sans','Noto Sans CJK SC',sans-serif" font-size="24" fill="#e94b5b" font-weight="bold" textLength="88.5" lengthAdjust="spacingAndGlyphs">4762.90</text>
<rect x="1329" y="165" width="136" height="34" fill="#fff" stroke="#ff8000" stroke-width="2"/>
<text x="1334" y="189" font-family="'Liberation Sans','Noto Sans CJK SC',sans-serif" font-size="24" fill="#ff8000" textLength="88.5" lengthAdjust="spacingAndGlyphs">4732.92</text>
<path d="M1456 148 L1464 156 H1448 Z M1456 156 L1464 164 H1448 Z" fill="#ff8000" shape-rendering="auto"/>
<text x="184" y="827.3" font-family="'Liberation Sans','Noto Sans CJK SC',sans-serif" font-size="24" fill="#1b1b1b" textLength="171" lengthAdjust="spacingAndGlyphs">MACD(26,12,9)</text>
<text x="366" y="827.5" font-family="'Liberation Sans','Noto Sans CJK SC',sans-serif" font-size="24" fill="#3f8cf0" textLength="116" lengthAdjust="spacingAndGlyphs">DIFF:55.66</text>
<text x="499.5" y="827.5" font-family="'Liberation Sans','Noto Sans CJK SC',sans-serif" font-size="24" fill="#3fbb7d" textLength="114" lengthAdjust="spacingAndGlyphs">DEA:33.58</text>
<text x="632" y="827.5" font-family="'Liberation Sans','Noto Sans CJK SC',sans-serif" font-size="24" fill="#48b4e6" textLength="140" lengthAdjust="spacingAndGlyphs">MACD:44.16</text>
<text x="184" y="1095.3" font-family="'Liberation Sans','Noto Sans CJK SC',sans-serif" font-size="24" fill="#1b1b1b" textLength="148.5" lengthAdjust="spacingAndGlyphs">RSI(14,14,14)</text>
<text x="344" y="1095.5" font-family="'Liberation Sans','Noto Sans CJK SC',sans-serif" font-size="24" fill="#3f8cf0" textLength="117.6" lengthAdjust="spacingAndGlyphs">RSI1:68.84</text>
<text x="479.8" y="1095.5" font-family="'Liberation Sans','Noto Sans CJK SC',sans-serif" font-size="24" fill="#3fbb7d" textLength="118" lengthAdjust="spacingAndGlyphs">RSI2:68.84</text>
<text x="615" y="1095.5" font-family="'Liberation Sans','Noto Sans CJK SC',sans-serif" font-size="24" fill="#48b4e6" textLength="118.6" lengthAdjust="spacingAndGlyphs">RSI3:68.84</text>
<text x="201" y="1321" font-family="'Liberation Sans','Noto Sans CJK SC',sans-serif" font-size="24" fill="#27304a" textLength="60" lengthAdjust="spacingAndGlyphs" stroke="#27304a" stroke-width="0.9">03/25</text>
<text x="561.3" y="1321" font-family="'Liberation Sans','Noto Sans CJK SC',sans-serif" font-size="24" fill="#27304a" textLength="60" lengthAdjust="spacingAndGlyphs" stroke="#27304a" stroke-width="0.9">03/27</text>
<text x="920.6" y="1321" font-family="'Liberation Sans','Noto Sans CJK SC',sans-serif" font-size="24" fill="#27304a" textLength="60" lengthAdjust="spacingAndGlyphs" stroke="#27304a" stroke-width="0.9">03/31</text>
<text x="184" y="28" font-family="'Noto Serif CJK SC','Liberation Serif',serif" font-size="24" fill="#000" font-weight="bold">现货黄金</text>
<text x="278" y="28" font-family="'Noto Sans CJK SC','Liberation Sans',sans-serif" font-size="24" fill="#ff8000">【</text>
<text x="304.5" y="27.5" font-family="'Liberation Serif','Noto Serif CJK SC',serif" font-size="24" fill="#ff8000" textLength="39" lengthAdjust="spacingAndGlyphs">240</text>
<text x="346" y="28" font-family="'Noto Sans CJK SC','Liberation Sans',sans-serif" font-size="24" fill="#ff8000">分</text>
<text x="372" y="28" font-family="'Noto Sans CJK SC','Liberation Sans',sans-serif" font-size="24" fill="#ff8000">】</text>
<g shape-rendering="auto" stroke="#ff8000" stroke-width="1.4" fill="none"><circle cx="403.5" cy="23.3" r="7.8"/><path d="M396 23.5H411M403.5 16V31"/></g>
<rect x="41" y="1297" width="138" height="38" fill="#fff" stroke="#c8d2dc" stroke-width="2"/>
<text x="60" y="1325" font-family="'Liberation Sans','Noto Sans CJK SC',sans-serif" font-size="24" fill="#ff8000" font-weight="bold" textLength="40" lengthAdjust="spacingAndGlyphs">240</text>
<text x="101" y="1326.5" font-family="'Noto Sans CJK SC','Liberation Sans',sans-serif" font-size="24" fill="#ff8000" font-weight="bold">分</text>
<path d="M145.6 1310 L154 1325.4 L137.2 1325.4 Z" fill="#ff8000" shape-rendering="auto"/>
<rect x="40" y="1336" width="1428" height="2" fill="#c8d2dc"/>
<rect x="1166" y="1365" width="302" height="2" fill="#c8d2dc"/>
<rect x="40" y="1336" width="78" height="30" fill="#ff6600"/>
<rect x="198" y="1338" width="2" height="30" fill="#c8d2dc"/>
<rect x="314" y="1338" width="2" height="30" fill="#c8d2dc"/>
<rect x="370" y="1338" width="2" height="30" fill="#c8d2dc"/>
<rect x="450" y="1338" width="2" height="30" fill="#c8d2dc"/>
<rect x="530" y="1338" width="2" height="30" fill="#c8d2dc"/>
<rect x="598" y="1338" width="2" height="30" fill="#c8d2dc"/>
<rect x="678" y="1338" width="2" height="30" fill="#c8d2dc"/>
<rect x="746" y="1338" width="2" height="30" fill="#c8d2dc"/>
<rect x="814" y="1338" width="2" height="30" fill="#c8d2dc"/>
<rect x="894" y="1338" width="2" height="30" fill="#c8d2dc"/>
<rect x="962" y="1338" width="2" height="30" fill="#c8d2dc"/>
<rect x="1018" y="1338" width="2" height="30" fill="#c8d2dc"/>
<rect x="1086" y="1338" width="2" height="30" fill="#c8d2dc"/>
<rect x="1166" y="1338" width="2" height="30" fill="#c8d2dc"/>
<text x="55" y="1361" font-family="'Noto Sans CJK SC','Liberation Sans',sans-serif" font-size="24" fill="#fff">指标</text>
<text x="135" y="1361" font-family="'Noto Sans CJK SC','Liberation Sans',sans-serif" font-size="24" fill="#27304a">模板</text>
<text x="216" y="1360" font-family="'Liberation Serif','Noto Serif CJK SC',serif" font-size="24" fill="#ff8000" textLength="35" lengthAdjust="spacingAndGlyphs">VIP</text>
<text x="251" y="1361" font-family="'Noto Sans CJK SC','Liberation Sans',sans-serif" font-size="24" fill="#ff8000">指标</text>
<text x="331.5" y="1360" font-family="'Liberation Serif','Noto Serif CJK SC',serif" font-size="24" fill="#27304a" textLength="22.5" lengthAdjust="spacingAndGlyphs">MA</text>
<text x="387.5" y="1360" font-family="'Liberation Serif','Noto Serif CJK SC',serif" font-size="24" fill="#27304a" textLength="46.5" lengthAdjust="spacingAndGlyphs">MACD</text>
<text x="467.5" y="1360" font-family="'Liberation Serif','Noto Serif CJK SC',serif" font-size="24" fill="#27304a" textLength="46.5" lengthAdjust="spacingAndGlyphs">BOLL</text>
<text x="547.5" y="1360" font-family="'Liberation Serif','Noto Serif CJK SC',serif" font-size="24" fill="#27304a" textLength="34.5" lengthAdjust="spacingAndGlyphs">VOL</text>
<text x="615.5" y="1360" font-family="'Liberation Serif','Noto Serif CJK SC',serif" font-size="24" fill="#27304a" textLength="46.5" lengthAdjust="spacingAndGlyphs">BIAS</text>
<text x="695.5" y="1360" font-family="'Liberation Serif','Noto Serif CJK SC',serif" font-size="24" fill="#27304a" textLength="34.5" lengthAdjust="spacingAndGlyphs">CCI</text>
<text x="763.5" y="1360" font-family="'Liberation Serif','Noto Serif CJK SC',serif" font-size="24" fill="#27304a" textLength="34.5" lengthAdjust="spacingAndGlyphs">KDJ</text>
<text x="831.5" y="1360" font-family="'Liberation Serif','Noto Serif CJK SC',serif" font-size="24" fill="#27304a" textLength="34.5" lengthAdjust="spacingAndGlyphs">LW&amp;</text>
<text x="911.5" y="1360" font-family="'Liberation Serif','Noto Serif CJK SC',serif" font-size="24" fill="#27304a" textLength="34.5" lengthAdjust="spacingAndGlyphs">RSI</text>
<text x="979.5" y="1360" font-family="'Liberation Serif','Noto Serif CJK SC',serif" font-size="24" fill="#27304a" textLength="22.5" lengthAdjust="spacingAndGlyphs">CR</text>
<text x="1035.5" y="1360" font-family="'Liberation Serif','Noto Serif CJK SC',serif" font-size="24" fill="#27304a" textLength="34.5" lengthAdjust="spacingAndGlyphs">PSY</text>
<text x="1103" y="1361" font-family="'Noto Sans CJK SC','Liberation Sans',sans-serif" font-size="24" fill="#27304a">设置</text>
<g><rect x="54" y="1074" width="2" height="2" fill="#000"/><rect x="56" y="1074" width="2" height="2" fill="#000"/><rect x="58" y="1074" width="2" height="2" fill="#000"/><rect x="60" y="1074" width="2" height="2" fill="#000"/><rect x="54" y="1088" width="2" height="2" fill="#000"/><rect x="56" y="1088" width="2" height="2" fill="#000"/><rect x="58" y="1088" width="2" height="2" fill="#000"/><rect x="60" y="1088" width="2" height="2" fill="#000"/><rect x="50" y="1078" width="2" height="2" fill="#000"/><rect x="50" y="1080" width="2" height="2" fill="#000"/><rect x="50" y="1082" width="2" height="2" fill="#000"/><rect x="50" y="1084" width="2" height="2" fill="#000"/><rect x="64" y="1078" width="2" height="2" fill="#000"/><rect x="64" y="1080" width="2" height="2" fill="#000"/><rect x="64" y="1082" width="2" height="2" fill="#000"/><rect x="64" y="1084" width="2" height="2" fill="#000"/><rect x="52" y="1076" width="2" height="2" fill="#000"/><rect x="62" y="1076" width="2" height="2" fill="#000"/><rect x="52" y="1086" width="2" height="2" fill="#000"/><rect x="62" y="1086" width="2" height="2" fill="#000"/><rect x="56" y="1078" width="2" height="2" fill="#f00"/><rect x="56" y="1080" width="2" height="2" fill="#f00"/><rect x="56" y="1082" width="2" height="2" fill="#f00"/><rect x="56" y="1084" width="2" height="2" fill="#f00"/><rect x="58" y="1078" width="2" height="2" fill="#f00"/><rect x="58" y="1080" width="2" height="2" fill="#f00"/><rect x="58" y="1082" width="2" height="2" fill="#f00"/><rect x="58" y="1084" width="2" height="2" fill="#f00"/><rect x="54" y="1080" width="2" height="2" fill="#f00"/><rect x="54" y="1082" width="2" height="2" fill="#f00"/><rect x="60" y="1080" width="2" height="2" fill="#f00"/><rect x="60" y="1082" width="2" height="2" fill="#f00"/><rect x="56" y="1068" width="2" height="2" fill="#f00"/><rect x="56" y="1070" width="2" height="2" fill="#f00"/><rect x="56" y="1092" width="2" height="2" fill="#f00"/><rect x="56" y="1094" width="2" height="2" fill="#f00"/><rect x="44" y="1080" width="2" height="2" fill="#f00"/><rect x="46" y="1080" width="2" height="2" fill="#f00"/><rect x="68" y="1080" width="2" height="2" fill="#f00"/><rect x="70" y="1080" width="2" height="2" fill="#f00"/><rect x="46" y="1070" width="2" height="2" fill="#f00"/><rect x="48" y="1072" width="2" height="2" fill="#f00"/><rect x="68" y="1070" width="2" height="2" fill="#f00"/><rect x="66" y="1072" width="2" height="2" fill="#f00"/><rect x="48" y="1090" width="2" height="2" fill="#f00"/><rect x="46" y="1092" width="2" height="2" fill="#f00"/><rect x="66" y="1090" width="2" height="2" fill="#f00"/><rect x="68" y="1092" width="2" height="2" fill="#f00"/></g>
<rect x="1203" y="3" width="26" height="26" fill="#fff" stroke="#1672c4" stroke-width="2"/>
<rect x="1235" y="3" width="26" height="26" fill="#fff" stroke="#1672c4" stroke-width="2"/>
<rect x="1267" y="3" width="26" height="26" fill="#fff" stroke="#1672c4" stroke-width="2"/>
<rect x="1299" y="3" width="26" height="26" fill="#fff" stroke="#1672c4" stroke-width="2"/>
<g fill="#1672c4"><rect x="1214" y="6" width="4" height="6"/><rect x="1214" y="14" width="4" height="4"/><rect x="1214" y="20" width="4" height="6"/><rect x="1206" y="14" width="6" height="4"/><rect x="1220" y="14" width="6" height="4"/></g>
<g fill="#1672c4"><rect x="1240" y="6" width="2" height="20"/><rect x="1238" y="22" width="20" height="2"/><rect x="1238" y="8" width="6" height="2" opacity=".6"/><rect x="1254" y="20" width="2" height="6" opacity=".8"/></g>
<g fill="#1672c4"><rect x="1272" y="6" width="2" height="20"/><rect x="1270" y="22" width="20" height="2"/><rect x="1270" y="8" width="6" height="2" opacity=".6"/><rect x="1286" y="20" width="2" height="6" opacity=".8"/></g>
<g fill="#1672c4"><rect x="1246" y="8" width="2" height="12"/><path d="M1248.5 13.5 L1254 8.5 V18 Z" shape-rendering="auto" opacity=".8"/></g>
<path d="M1278 8 L1288 14 L1278 20 Z" opacity=".9" fill="#1672c4" shape-rendering="auto"/>
<g fill="#1672c4"><rect x="1303" y="7" width="6" height="18" fill="none" stroke="#1672c4" stroke-width="2"/><rect x="1306" y="14" width="10" height="4"/><path d="M1314 10 L1322 16 L1314 22 Z" shape-rendering="auto"/></g>
</svg>
</body></html>
